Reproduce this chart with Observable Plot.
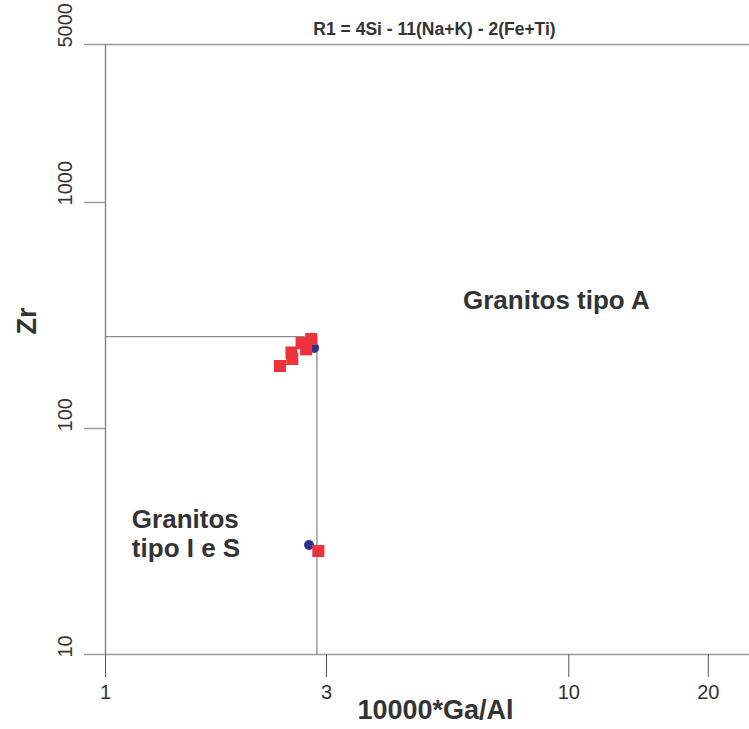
<!DOCTYPE html>
<html>
<head>
<meta charset="utf-8">
<script src="https://cdn.jsdelivr.net/npm/d3@7"></script>
<script src="https://cdn.jsdelivr.net/npm/@observablehq/plot@0.6"></script>
<style>
  html, body { margin: 0; padding: 0; background: #fff; }
  #chart svg { display: block; }
</style>
</head>
<body>
<div id="chart"></div>
<script>
// ---- data ----
const titleText = "R1 = 4Si - 11(Na+K) - 2(Fe+Ti)";
const xLabel = "10000*Ga/Al";
const yLabel = "Zr";
const xTicks = [1, 3, 10, 20];
const yTicks = [10, 100, 1000, 5000];

// red squares
const redGaAl = [2.38, 2.52, 2.53, 2.65, 2.71, 2.78, 2.88];
const redZr   = [189, 217, 203, 239, 224, 249, 28.7];
// blue circles
const blueGaAl = [2.82, 2.75];
const blueZr   = [227, 30.5];

// discriminant boundary
const boundaryGaAl = 2.86;
const boundaryZr = 255;

// field labels
const fieldNames = ["Granitos tipo A", "Granitos\ntipo I e S"];
const fieldGaAl = [5.91, 1.14];
const fieldZr = [372, 34.5];

// ---- build tables ----
const red = redGaAl.map((x, i) => ({x, y: redZr[i]}));
const blue = blueGaAl.map((x, i) => ({x, y: blueZr[i]}));
const boundary = [
  {x: xTicks[0], y: boundaryZr},
  {x: boundaryGaAl, y: boundaryZr},
  {x: boundaryGaAl, y: yTicks[0]}
];
const fields = fieldNames.map((t, i) => ({t, x: fieldGaAl[i], y: fieldZr[i]}));

const narrow = "'Liberation Sans Narrow', 'Arial Narrow', 'Liberation Sans', Arial, sans-serif";
const sans = "'Liberation Sans', Arial, Helvetica, sans-serif";
const ink = "#333333";

const chart = Plot.plot({
  width: 749,
  height: 729,
  marginLeft: 105,
  marginRight: 0,
  marginTop: 44,
  marginBottom: 75,
  style: {background: "#fff", fontFamily: sans, color: ink},
  x: {type: "log", domain: [1, 24.55], axis: null},
  y: {type: "log", domain: [10, 5000], axis: null},
  marks: [
    // frame lines
    Plot.ruleY([yTicks[0], yTicks[yTicks.length - 1]], {stroke: "#9a9a9a", strokeWidth: 1.6}),
    Plot.ruleX([xTicks[0]], {stroke: "#808080", strokeWidth: 1.4}),
    // y ticks (lines) + rotated labels
    Plot.axisY(yTicks, {tickSize: 21, stroke: "#9a9a9a", strokeWidth: 1.4, tickFormat: () => "", label: null}),
    Plot.text(yTicks, {y: d => d, text: d => String(d), frameAnchor: "left", dx: -40, dy: 3, rotate: -90,
      fontSize: 20, fill: ink, fontFamily: sans}),
    // x ticks
    Plot.axisX(xTicks, {tickSize: 23, stroke: "#555", strokeWidth: 1, tickPadding: 7, fontSize: 20,
      tickFormat: d => String(d), label: null, color: ink, fontFamily: sans}),
    // boundary
    Plot.line(boundary, {x: "x", y: "y", stroke: "#8c8c8c", strokeWidth: 1.3, curve: "linear"}),
    // data
    Plot.dot(blue, {x: "x", y: "y", r: 5, fill: "#2e3192", stroke: "none"}),
    Plot.dot(red, {x: "x", y: "y", r: 6.8, symbol: "square", fill: "#ee3239", stroke: "none"}),
    // field labels
    Plot.text(fields, {x: "x", y: "y", text: "t", textAnchor: "start", fontSize: 26, fontWeight: "bold",
      fill: ink, fontFamily: sans, lineHeight: 1.13}),
    // title
    Plot.text([titleText], {frameAnchor: "top", dx: 7, dy: -22, fontSize: 17.5, fontWeight: "bold", fill: ink, fontFamily: narrow}),
    // x label
    Plot.text([xLabel], {frameAnchor: "bottom", dx: 8, dy: 64, fontSize: 27, fontWeight: "bold",
      fill: ink, fontFamily: narrow}),
    // y label
    Plot.text([yLabel], {frameAnchor: "left", dx: -78, dy: -15, rotate: -90, fontSize: 27, fontWeight: "bold",
      fill: ink, fontFamily: sans})
  ]
});
document.getElementById("chart").appendChild(chart);
</script>
</body>
</html>
